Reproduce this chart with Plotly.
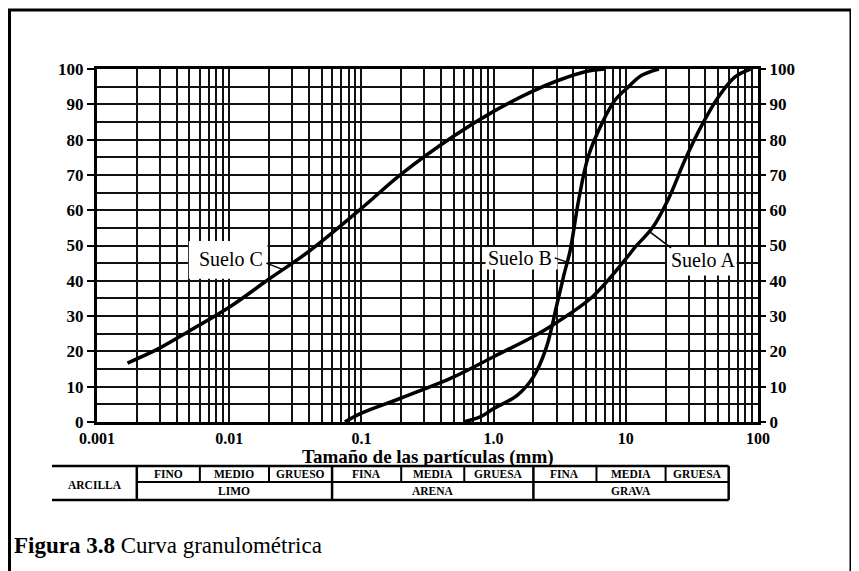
import numpy as np
import plotly.graph_objects as go

# ---------------- data ----------------
soil_a_size = [0.075, 0.1, 0.2, 0.5, 1.0, 2.0, 3.0, 5.6, 9.9, 11.8, 15.9, 21, 28, 37, 50, 67, 88]
soil_a_pct = [0, 2.5, 6.8, 12.8, 18.5, 24.2, 28.2, 35.5, 46.0, 49.6, 55.0, 63.2, 74.2, 83.6, 92.0, 97.8, 100]

soil_b_size = [0.59, 0.8, 1.0, 1.5, 2.0, 2.5, 3.0, 3.4, 3.8, 4.4, 5.2, 6.6, 8.3, 10.5, 13.2, 17.8]
soil_b_pct = [0, 1.5, 3.8, 7.5, 12.8, 21, 33.0, 41.6, 48.7, 62.9, 75.2, 84.6, 91.2, 95, 98.2, 100]

soil_c_size = [0.0017, 0.003, 0.005, 0.01, 0.02, 0.04, 0.1, 0.2, 0.5, 1.0, 2.0, 3.0, 5.0, 7.0]
soil_c_pct = [16.7, 21, 25.8, 32.5, 40.5, 48.3, 60.5, 70.2, 81.0, 88.0, 93.8, 96.6, 99.3, 100]

decades = [0.001, 0.01, 0.1, 1.0, 10, 100]
decade_labels = ["0.001", "0.01", "0.1", "1.0", "10", "100"]
y_ticks = [0, 10, 20, 30, 40, 50, 60, 70, 80, 90, 100]

# grain-size classification table
class_bounds = [0.002, 0.006, 0.02, 0.06, 0.2, 0.6, 2, 6, 20, 60]
sub_labels = ["FINO", "MEDIO", "GRUESO", "FINA", "MEDIA", "GRUESA", "FINA", "MEDIA", "GRUESA"]
main_labels = ["LIMO", "ARENA", "GRAVA"]
main_bounds = [0.002, 0.06, 2, 60]
clay_label = "ARCILLA"

soil_labels = ["Suelo C", "Suelo B", "Suelo A"]

# ---------------- layout helpers (reference-pixel based) ----------------
OFF = 8  # page body margin
W, H = 859 - OFF, 571 - OFF
PL, PR, PT, PB = 97, 758, 69, 422  # plot area in reference pixels
L, T = PL - OFF, PT - OFF
R, B = W - (PR - OFF), H - (PB - OFF)
pw, ph = PR - PL, PB - PT


def px_x(px):
    return (px - PL) / pw


def px_y(py):
    return (PB - py) / ph


fig = go.Figure()

line_style = dict(color="black", width=3.5, shape="spline", smoothing=1.0)
for xs, ys, nm in [(soil_a_size, soil_a_pct, "Suelo A"),
                   (soil_b_size, soil_b_pct, "Suelo B"),
                   (soil_c_size, soil_c_pct, "Suelo C")]:
    fig.add_trace(go.Scatter(x=xs, y=ys, mode="lines", line=line_style,
                             name=nm, showlegend=False, hoverinfo="skip"))

# invisible trace for right axis
fig.add_trace(go.Scatter(x=[decades[0]], y=[0], yaxis="y2", mode="markers",
                         marker=dict(opacity=0), showlegend=False, hoverinfo="skip"))

grid_x = [m * d for d in decades[:-1] for m in range(1, 10)] + [decades[-1]]
grid_text = [(decade_labels[decades.index(v)] if v in decades else "") for v in grid_x]

tick_font = dict(family="Liberation Serif", size=17, color="black", weight="bold")
xtick_font = dict(family="Liberation Serif", size=16, color="black", weight="bold")

fig.update_layout(
    width=W, height=H, autosize=False,
    margin=dict(l=L, r=R, t=T, b=B, autoexpand=False),
    paper_bgcolor="white", plot_bgcolor="white",
    xaxis=dict(type="log", range=[-3, 2], tickvals=grid_x, ticktext=grid_text,
               showgrid=True, gridcolor="#111", gridwidth=2, ticks="",
               showline=True, linecolor="black", linewidth=3, mirror=True,
               tickfont=xtick_font, zeroline=False),
    yaxis=dict(range=[0, 100], tickvals=y_ticks, showgrid=True, gridcolor="#111",
               gridwidth=2, minor=dict(dtick=5, showgrid=True, gridcolor="#111", gridwidth=2),
               ticks="outside", ticklen=7, tickwidth=2, tickcolor="black",
               showline=True, linecolor="black", linewidth=3, mirror=True,
               tickfont=tick_font, zeroline=False),
    yaxis2=dict(range=[0, 100], tickvals=y_ticks, overlaying="y", side="right",
                showgrid=False, ticks="outside", ticklen=7, tickwidth=2, tickcolor="black",
                tickfont=tick_font, zeroline=False, showline=False),
)

shapes = []
# white label boxes
label_boxes = [(0.00495, 0.0195, 40.6, 51.3), (0.87, 3.05, 43.2, 49.6), (20.5, 69, 41.5, 49.6)]
for x0, x1, y0, y1 in label_boxes:
    shapes.append(dict(type="rect", xref="x", yref="y", x0=x0, x1=x1, y0=y0, y1=y1,
                       fillcolor="white", line=dict(width=0), layer="between"))
# leader lines
leaders = [((0.0191, 45.0), (0.025, 43.3)), ((2.9, 46.5), (3.6, 45.3)), ((22, 49.3), (15.3, 53.8))]
for (xa, ya), (xb, yb) in leaders:
    shapes.append(dict(type="line", xref="x", yref="y", x0=xa, y0=ya, x1=xb, y1=yb,
                       line=dict(color="black", width=1.5)))

# table
yt, ym, yb = px_y(466), px_y(482), px_y(500)
tl = dict(color="black", width=2.5)
for yy in (yt, yb):
    shapes.append(dict(type="line", xref="x", yref="paper", x0=decades[0], x1=class_bounds[-1],
                       y0=yy, y1=yy, line=tl))
    shapes.append(dict(type="line", xref="paper", yref="paper", x0=px_x(52), x1=0,
                       y0=yy, y1=yy, line=tl))
shapes.append(dict(type="line", xref="x", yref="paper", x0=class_bounds[0], x1=class_bounds[-1],
                   y0=ym, y1=ym, line=dict(color="black", width=2)))
for b in class_bounds:
    full = b in main_bounds
    shapes.append(dict(type="line", xref="x", yref="paper", x0=b, x1=b,
                       y0=yt, y1=(yb if full else ym),
                       line=dict(color="black", width=2.5 if full else 2)))
# outer frame
shapes.append(dict(type="rect", xref="paper", yref="paper", x0=px_x(9.5), x1=px_x(851),
                   y0=px_y(620), y1=px_y(10), line=dict(color="black", width=3)))
fig.update_layout(shapes=shapes)

annotations = []
tfont = dict(family="Liberation Serif", size=11.5, color="black", weight="bold")
for i, lab in enumerate(sub_labels):
    c = (np.log10(class_bounds[i]) + np.log10(class_bounds[i + 1])) / 2
    annotations.append(dict(x=c, y=px_y(474), xref="x", yref="paper", text=lab,
                            xanchor="center", yanchor="middle", showarrow=False, font=tfont))
for i, lab in enumerate(main_labels):
    c = (np.log10(main_bounds[i]) + np.log10(main_bounds[i + 1])) / 2
    annotations.append(dict(x=c, y=px_y(491), xref="x", yref="paper", text=lab,
                            xanchor="center", yanchor="middle", showarrow=False, font=tfont))
annotations.append(dict(x=(px_x(52) + px_x(137)) / 2, y=px_y(485), xref="paper", yref="paper",
                        text=clay_label, xanchor="center", yanchor="middle", showarrow=False,
                        font=tfont))

# soil labels
label_pos = [(0.0103, 46.2), (1.57, 46.5), (38.3, 45.9)]
for (lx, ly), lab in zip(label_pos, soil_labels):
    annotations.append(dict(x=np.log10(lx), y=ly, xref="x", yref="y", text=lab,
                            showarrow=False, xanchor="center", yanchor="middle",
                            font=dict(family="Liberation Serif", size=20, color="black")))

# axis title
annotations.append(dict(x=0.5, y=px_y(456.5), xref="paper", yref="paper", xanchor="center",
                        yanchor="middle",
                        text="<b>Tamaño de las partículas (mm)</b>", showarrow=False,
                        font=dict(family="Liberation Serif", size=19, color="black")))
# caption
annotations.append(dict(x=px_x(12), y=px_y(545), xref="paper", yref="paper", xanchor="left",
                        yanchor="middle",
                        text="<b>Figura 3.8</b> Curva granulométrica", showarrow=False,
                        font=dict(family="Liberation Serif", size=23, color="black")))
fig.update_layout(annotations=annotations)

fig.write_html("out.html")
